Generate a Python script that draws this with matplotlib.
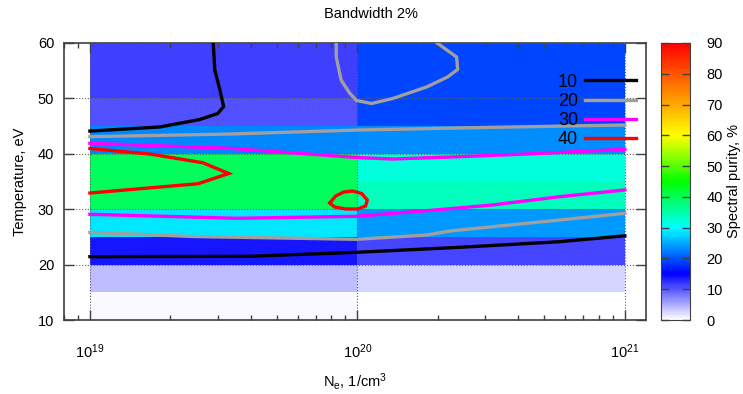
import matplotlib
matplotlib.use("Agg")
import matplotlib.pyplot as plt
import numpy as np
from matplotlib.colors import LinearSegmentedColormap
from matplotlib import ticker

plt.rcParams['font.family'] = ['Liberation Sans', 'DejaVu Sans']
plt.rcParams['mathtext.fontset'] = 'custom'
plt.rcParams['mathtext.rm'] = 'Liberation Sans'
plt.rcParams['mathtext.it'] = 'Liberation Sans'
plt.rcParams['mathtext.default'] = 'regular'

# grid of the map: density columns and temperature rows (cell edges)
ne_edges = [1e19, 1e20, 1e21]
te_edges = [10, 15, 20, 25, 30, 35, 40, 45, 50, 55, 60]

# spectral purity (%) per cell, rows from T=10 upward
purity_low_ne = [0.4, 4.2, 14.0, 28.5, 39.5, 39.5, 23.0, 10.3, 11.5, 11.5]
purity_high_ne = [0.0, 2.8, 11.0, 24.0, 33.8, 32.3, 23.5, 19.0, 19.0, 19.0]

# contour lines, pairs of (log10 Ne, T)
c10_a = [(19.0, 44.1), (19.261, 44.84), (19.411, 46.19), (19.478, 47.27), (19.5, 48.54),
         (19.486, 51.52), (19.467, 55.13), (19.461, 60.0)]
c10_b = [(19.0, 21.43), (19.598, 21.5), (19.997, 22.22), (20.382, 23.12), (20.756, 24.13),
         (21.0, 25.2)]
c20_a = [(19.0, 43.09), (19.523, 43.57), (20.009, 44.3), (20.505, 44.78), (21.0, 45.2)]
c20_b = [(19.921, 60.0), (19.921, 57.47), (19.939, 53.32), (19.971, 50.97), (19.997, 49.62),
         (20.053, 49.08), (20.132, 49.98), (20.259, 52.06), (20.337, 53.86), (20.375, 55.22),
         (20.371, 57.47), (20.298, 60.0)]
c20_c = [(19.0, 25.83), (19.385, 25.07), (19.997, 24.57), (20.259, 25.34), (20.345, 26.06),
         (20.505, 26.84), (20.756, 28.05), (21.0, 29.26)]
c30_a = [(19.0, 41.9), (19.523, 40.99), (19.997, 39.33), (20.132, 39.06), (20.382, 39.48),
         (20.632, 39.96), (21.0, 40.81)]
c30_b = [(19.0, 29.08), (19.549, 28.36), (19.997, 28.72), (20.259, 29.73), (20.505, 30.76),
         (20.756, 32.26), (21.0, 33.47)]
c40_a = [(19.0, 40.96), (19.224, 39.96), (19.422, 38.39), (19.519, 36.44), (19.405, 34.6),
         (19.0, 32.92)]
c40_b = [(19.897, 31.12), (19.919, 32.38), (19.949, 33.1), (19.982, 33.28), (20.016, 32.83),
         (20.037, 31.66), (20.031, 30.58), (20.001, 30.04), (19.956, 30.04), (19.915, 30.4),
         (19.897, 31.12)]

levels = [10, 20, 30, 40]
level_colors = ['black', '#a0a0a0', '#ff00ff', '#ff0000']
level_lines = [[c10_a, c10_b], [c20_a, c20_b, c20_c], [c30_a, c30_b], [c40_a, c40_b]]

cmap = LinearSegmentedColormap.from_list('purity', [
    (0.0, '#ffffff'), (15 / 90, '#0000ff'), (30 / 90, '#00ffff'), (45 / 90, '#00ff00'),
    (60 / 90, '#ffff00'), (75 / 90, '#ff8000'), (1.0, '#ff0000')])

fig = plt.figure(figsize=(7.43, 3.94), dpi=100)
ax = fig.add_axes([64 / 743, 1 - 320 / 394, (646 - 64) / 743, 277 / 394])
cax = fig.add_axes([661 / 743, 1 - 320 / 394, 29 / 743, 277 / 394])

Z = np.array([purity_low_ne, purity_high_ne]).T
mesh = ax.pcolormesh(ne_edges, te_edges, Z, cmap=cmap, vmin=0, vmax=90, shading='flat')

for lev, col, lines in zip(levels, level_colors, level_lines):
    for i, seg in enumerate(lines):
        seg = np.array(seg)
        ax.plot(10 ** seg[:, 0], seg[:, 1], color=col, lw=2.4, zorder=3,
                solid_joinstyle='miter', label=str(lev) if i == 0 else None)

ax.set_xscale('log')
ax.set_xlim(8e18, 1.2e21)
ax.set_ylim(10, 60)
ax.xaxis.set_major_locator(ticker.LogLocator(base=10, numticks=10))
ax.xaxis.set_minor_locator(ticker.LogLocator(base=10, subs=np.arange(2, 10), numticks=20))
ax.yaxis.set_major_locator(ticker.MultipleLocator(10))
ax.tick_params(which='both', direction='in', top=True, right=True, colors='#404040',
               labelcolor='black', labelsize=10.5)
ax.tick_params(which='major', length=7, width=1)
ax.tick_params(which='minor', length=3.5, width=1)
ax.tick_params(axis='x', which='major', pad=16)
ax.tick_params(axis='y', which='major', pad=7)
ax.grid(which='major', color='#606060', linestyle=':', linewidth=0.8)
ax.set_axisbelow(False)
for s in ax.spines.values():
    s.set_color('#404040')
    s.set_linewidth(1.2)

ax.set_xlabel('N$_e$, 1/cm$^3$', fontsize=10.5, labelpad=7)
ax.set_ylabel('Temperature, eV', fontsize=10.5, labelpad=8)
fig.text(371 / 743, 1 - 14 / 394, 'Bandwidth 2%', ha='center', va='center', fontsize=10.5)

leg = ax.legend(loc='upper right', frameon=False, markerfirst=False, fontsize=13,
                handlelength=2.8, handletextpad=0.4, labelspacing=0.12,
                bbox_to_anchor=(0.995, 0.915), borderaxespad=0)

cb = fig.colorbar(mesh, cax=cax)
cb.set_ticks(np.arange(0, 91, 10))
cax.tick_params(direction='in', left=True, right=True, length=6, width=1, colors='#404040',
                labelcolor='black', labelsize=10.5, pad=12)
cb.outline.set_edgecolor('#404040')
cb.set_label('Spectral purity, %', fontsize=10.5, labelpad=3)

fig.savefig('out.png', dpi=100)
